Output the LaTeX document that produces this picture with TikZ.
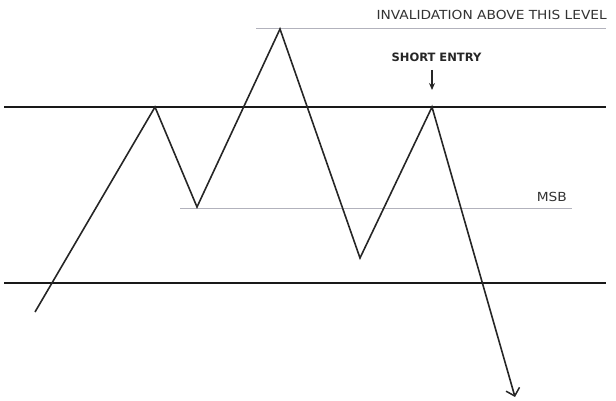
\documentclass[tikz,border=0pt]{standalone}
\usepackage{fontspec}
\setmainfont{DejaVu Sans}
\newfontfamily\widefont[FakeStretch=1.1]{DejaVu Sans}
\usetikzlibrary{arrows.meta}
\begin{document}
\begin{tikzpicture}[x=1pt,y=-1pt,
  level/.style={line width=1.5pt,black!90},
  guide/.style={line width=1pt,color={rgb,255:red,178;green,178;blue,188}},
  price/.style={line width=1.6pt,black!85,line join=miter},
  lbl/.style={font=\widefont\fontsize{12.5}{14}\selectfont,text=black!80,inner sep=0pt},
  boldlbl/.style={font=\fontsize{11.5}{13}\selectfont\bfseries,text=black!85,inner sep=0pt}]
\useasboundingbox (0,0) rectangle (616,401);
% horizontal levels
\coordinate (r1l) at (4,107);
\coordinate (r1r) at (606,107);
\coordinate (r2l) at (4,283);
\coordinate (r2r) at (606,283);
\draw[level] (r1l) -- (r1r);
\draw[level] (r2l) -- (r2r);
% guides
\coordinate (invl) at (256,29);
\coordinate (invr) at (606,29);
\coordinate (msbl) at (180,208);
\coordinate (msbr) at (572,208);
\draw[guide] (invl) -- (invr);
\draw[guide] (msbl) -- (msbr);
% price path
\coordinate (p0) at (35,312);
\coordinate (p1) at (155,107);
\coordinate (p2) at (197,207);
\coordinate (p3) at (280,29);
\coordinate (p4) at (360,258);
\coordinate (p5) at (432,107);
\coordinate (p6) at (515,397);
\draw[price,-{Straight Barb[length=7pt,width=14pt,line width=1.5pt]}] (p0) -- (p1) -- (p2) -- (p3) -- (p4) -- (p5) -- (p6);
% labels
\node[lbl,anchor=base east] (inv) at (607,20) {INVALIDATION ABOVE THIS LEVEL};
\node[lbl,anchor=base east] (msb) at (567,201) {MSB};
\node[boldlbl,anchor=base] (se) at (436.5,62) {SHORT ENTRY};
\coordinate (arrtop) at (432,70);
\coordinate (arrtip) at (432,90);
\draw[line width=1.8pt,black!85,-{Stealth[length=7pt,width=6pt]}] (arrtop) -- (arrtip);
\end{tikzpicture}
\end{document}
